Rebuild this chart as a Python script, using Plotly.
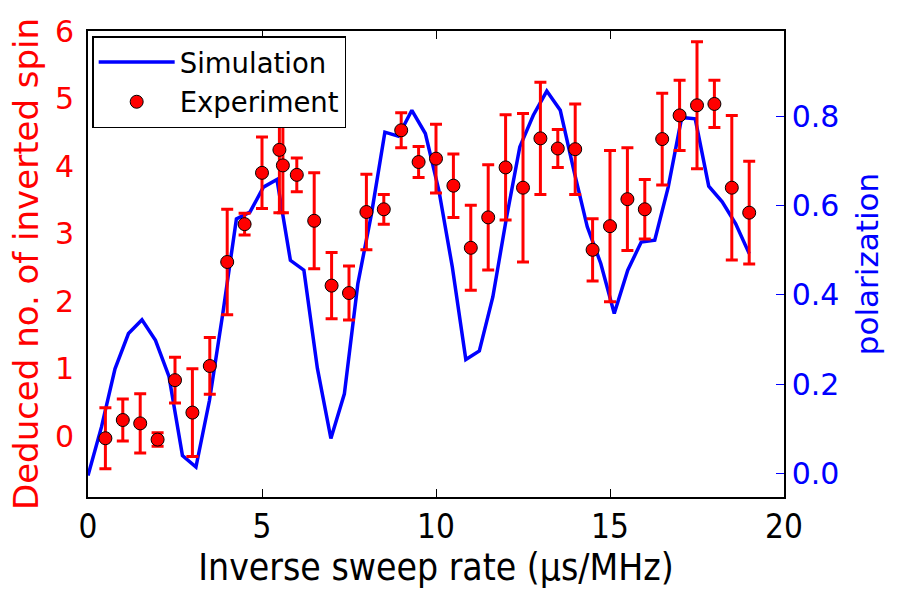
import plotly.graph_objects as go

# Experiment data (left axis)
exp_x = [0.5, 1, 1.5, 2, 2.5, 3, 3.5, 4, 4.5, 5, 5.5, 5.6, 6, 6.5, 7, 7.5, 8, 8.5, 9, 9.5,
         10, 10.5, 11, 11.5, 12, 12.5, 13, 13.5, 14, 14.5, 15, 15.5, 16, 16.5, 17, 17.5, 18, 18.5, 19]
exp_y = [-0.03, 0.24, 0.19, -0.05, 0.83, 0.35, 1.04, 2.58, 3.14, 3.90, 4.24, 4.01, 3.87, 3.19, 2.23, 2.12,
         3.32, 3.36, 4.53, 4.06, 4.11, 3.71, 2.79, 3.24, 3.98, 3.68, 4.41, 4.26, 4.25, 2.76, 3.11, 3.51,
         3.36, 4.40, 4.75, 4.90, 4.92, 3.68, 3.31]
exp_err = [0.45, 0.31, 0.44, 0.10, 0.34, 0.65, 0.42, 0.78, 0.16, 0.53, 0.93, 0.70, 0.25, 0.71, 0.49, 0.40,
           0.56, 0.22, 0.26, 0.23, 0.51, 0.47, 0.63, 0.78, 0.78, 1.10, 0.83, 0.28, 0.67, 0.46, 1.12, 0.76,
           0.44, 0.68, 0.52, 0.94, 0.35, 1.07, 0.76]

# Simulation data (right axis)
sim_x = [0, 0.388, 0.776, 1.163, 1.551, 1.939, 2.327, 2.714, 3.102, 3.490, 3.878, 4.265, 4.653, 5.041,
         5.429, 5.816, 6.204, 6.592, 6.980, 7.367, 7.755, 8.143, 8.531, 8.918, 9.306, 9.694, 10.082,
         10.469, 10.857, 11.245, 11.633, 12.020, 12.408, 12.796, 13.184, 13.571, 13.959, 14.347, 14.735,
         15.122, 15.510, 15.898, 16.286, 16.673, 17.061, 17.449, 17.837, 18.224, 18.612, 19.0]
sim_p = [-0.005, 0.104, 0.234, 0.313, 0.344, 0.298, 0.217, 0.040, 0.014, 0.163, 0.36, 0.570, 0.585,
         0.641, 0.658, 0.477, 0.455, 0.235, 0.078, 0.178, 0.425, 0.58, 0.764, 0.755, 0.813, 0.761,
         0.634, 0.462, 0.255, 0.274, 0.395, 0.57, 0.731, 0.802, 0.856, 0.813, 0.679, 0.552, 0.470,
         0.358, 0.455, 0.518, 0.522, 0.641, 0.797, 0.794, 0.643, 0.608, 0.559, 0.492]

x_ticks = [0, 5, 10, 15, 20]
left_ticks = [0, 1, 2, 3, 4, 5, 6]
right_ticks = [0.0, 0.2, 0.4, 0.6, 0.8]
right_ticktext = ["0.0", "0.2", "0.4", "0.6", "0.8"]

RED = "#ff0000"
BLUE = "#0000ff"
FONT = "DejaVu Sans"
CFONT = "DejaVu Sans Condensed, DejaVu Sans"
LEFT_RANGE = [-0.9, 6]

fig = go.Figure()
fig.add_trace(go.Scatter(
    x=sim_x, y=sim_p, mode="lines", name="Simulation", yaxis="y",
    legendgroup="sim",
    line=dict(color=BLUE, width=3.5),
))
fig.add_trace(go.Scatter(
    x=exp_x, y=exp_y, mode="markers", name="Experiment", yaxis="y2",
    legendgroup="exp",
    marker=dict(color=RED, size=13, line=dict(color="black", width=1)),
    error_y=dict(type="data", array=exp_err, visible=True, color=RED, thickness=3, width=6),
))

fig.update_layout(
    width=904, height=596,
    margin=dict(l=88, r=120, t=31, b=99),
    paper_bgcolor="white", plot_bgcolor="white",
    font=dict(family=FONT, size=26, color="black"),
    showlegend=True,
    legend=dict(
        x=0.006, y=0.989, xanchor="left", yanchor="top",
        bgcolor="white", bordercolor="black", borderwidth=1.5,
        font=dict(family=FONT, size=27.5, color="black"),
        itemwidth=76, traceorder="grouped", tracegroupgap=1,
    ),
    xaxis=dict(
        range=[0, 20], tickvals=x_ticks, ticks="inside", ticklen=8, tickwidth=1,
        tickcolor="black", showline=True, linecolor="black", linewidth=1.5, mirror="ticks",
        showgrid=False, zeroline=False,
        tickfont=dict(family=CFONT, size=33, color="black"),
        title=dict(text="Inverse sweep rate (μs/MHz)",
                   font=dict(family=CFONT, size=37, color="black"),
                   standoff=5),
    ),
    yaxis=dict(
        side="right", range=[-0.053, 0.9906], tickvals=right_ticks, ticktext=right_ticktext,
        ticks="inside", ticklen=8, tickwidth=1, tickcolor=BLUE,
        showline=True, linecolor="black", linewidth=1.5, mirror=True,
        showgrid=False, zeroline=False,
        tickfont=dict(family=FONT, size=30, color=BLUE),
        title=dict(text="polarization", font=dict(family=FONT, size=31, color=BLUE), standoff=18),
    ),
    # left axis: labels and title (transparent outside ticks just give the label gap)
    yaxis2=dict(
        side="left", overlaying="y", range=LEFT_RANGE, tickvals=left_ticks,
        ticks="outside", ticklen=7, tickwidth=1, tickcolor="rgba(0,0,0,0)",
        showline=False, showgrid=False, zeroline=False,
        tickfont=dict(family=FONT, size=30, color=RED),
        title=dict(text="Deduced no. of inverted spin", font=dict(family=FONT, size=34, color=RED), standoff=6),
    ),
    # left axis: the red inward tick marks
    yaxis3=dict(
        side="left", overlaying="y", range=LEFT_RANGE, tickvals=left_ticks,
        ticks="inside", ticklen=8, tickwidth=1, tickcolor=RED,
        showticklabels=False, showline=False, showgrid=False, zeroline=False,
    ),
)

fig.write_html("out.html")
